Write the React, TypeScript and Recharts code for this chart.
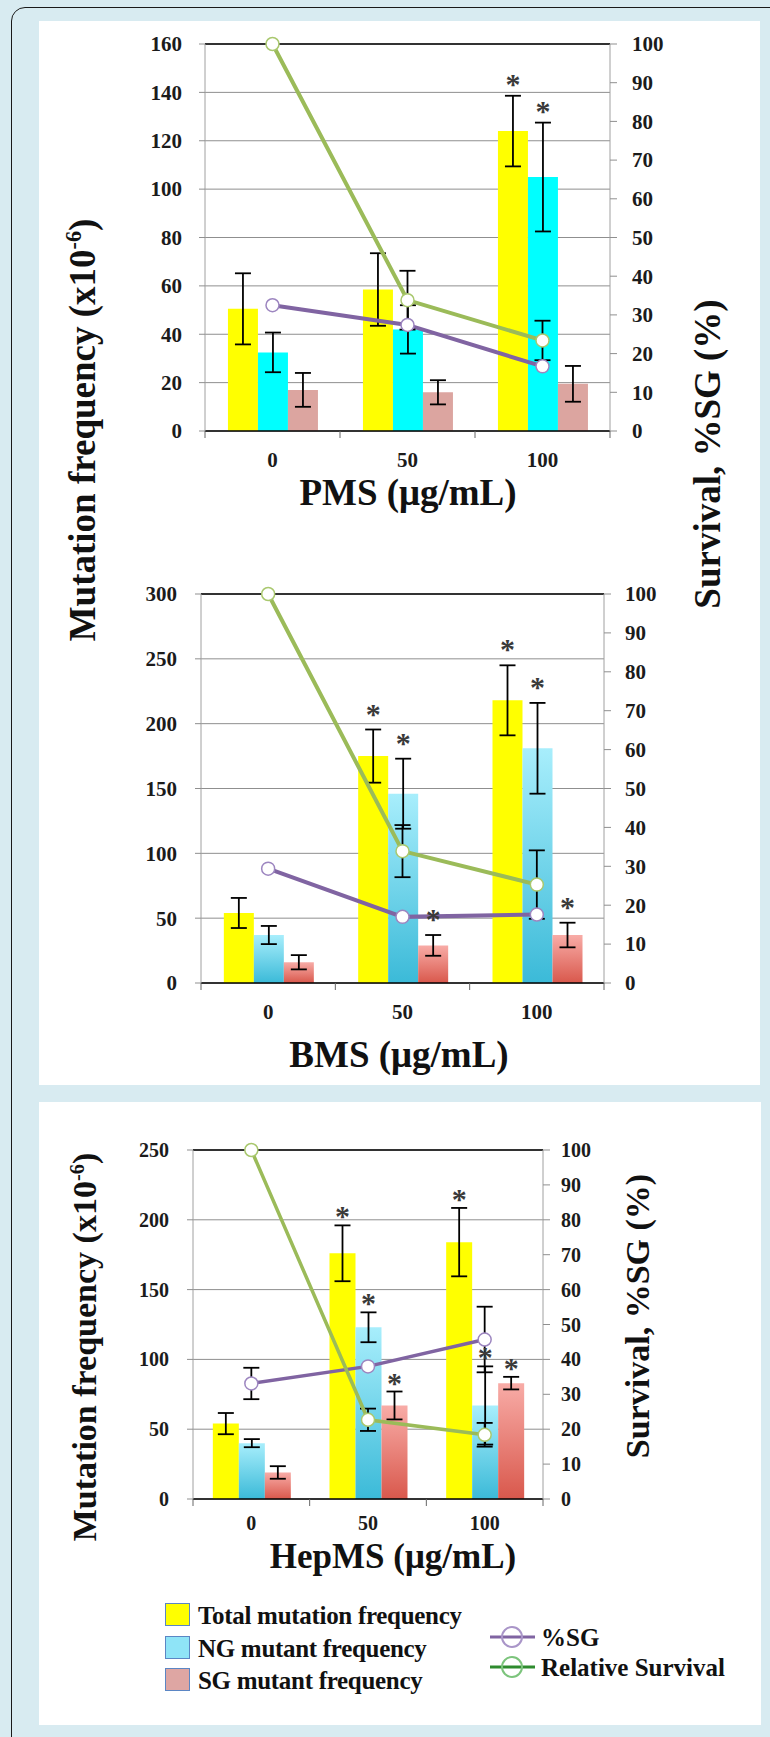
import React from "react";
import {
  ComposedChart,
  Bar,
  Line,
  XAxis,
  YAxis,
  CartesianGrid,
  ErrorBar,
  LabelList,
  ReferenceLine,
} from "recharts";

const SERIF = '"Liberation Serif", "Times New Roman", serif';
const INK = "#1b1b1b";
const GRID = "#8f8f8f";
const GREEN = "#9bbb59";
const PURPLE = "#8064a2";
const txt = { fontFamily: SERIF, fontWeight: 700 } as const;

const doses = ["0", "50", "100"];
const survivalTicks = [0, 10, 20, 30, 40, 50, 60, 70, 80, 90, 100];

// PMS
const pmsTicks = [0, 20, 40, 60, 80, 100, 120, 140, 160];
const pmsTotal = [50.5, 58.5, 124];
const pmsTotalErr = [14.7, 15, 14.6];
const pmsNG = [32.5, 42, 105];
const pmsNGErr = [8.2, 10, 22.5];
const pmsSG = [17, 16, 19.5];
const pmsSGErr = [7, 5, 7.4];
const pmsSurvival = [100, 33.8, 23.4];
const pmsSurvivalErr = [0, 7.6, 5.1];
const pmsPctSG = [32.5, 27.4, 16.7];
const pmsPctSGErr = [0, 0, 0];
const pmsStarTotal = [false, false, true];
const pmsStarNG = [false, false, true];
const pmsStarSG = [false, false, false];

// BMS
const bmsTicks = [0, 50, 100, 150, 200, 250, 300];
const bmsTotal = [54, 175, 218];
const bmsTotalErr = [11.6, 20.5, 27];
const bmsNG = [37, 146, 181];
const bmsNGErr = [7, 27, 35];
const bmsSG = [16, 29, 37];
const bmsSGErr = [5.5, 8, 9.5];
const bmsSurvival = [100, 33.9, 25.3];
const bmsSurvivalErr = [0, 6.7, 8.8];
const bmsPctSG = [29.4, 17, 17.6];
const bmsPctSGErr = [0, 0, 0];
const bmsStarTotal = [false, true, true];
const bmsStarNG = [false, true, true];
const bmsStarSG = [false, true, true];

// HepMS
const hepTicks = [0, 50, 100, 150, 200, 250];
const hepTotal = [54, 176, 184];
const hepTotalErr = [7.6, 20, 24.5];
const hepNG = [40, 123, 67];
const hepNGErr = [2.9, 10.7, 28];
const hepSG = [19, 67, 83];
const hepSGErr = [4.5, 10, 4.5];
const hepSurvival = [100, 22.7, 18.4];
const hepSurvivalErr = [0, 3.2, 3.4];
const hepPctSG = [33.1, 38, 45.7];
const hepPctSGErr = [4.5, 0, 9.4];
const hepStarTotal = [false, true, true];
const hepStarNG = [false, true, true];
const hepStarSG = [false, true, true];

type PanelProps = {
  id: string;
  top: number;
  height: number;
  left: number;
  right: number;
  plotTop: number;
  plotBottom: number;
  ticks: number[];
  total: number[];
  totalErr: number[];
  ng: number[];
  ngErr: number[];
  sg: number[];
  sgErr: number[];
  survival: number[];
  survivalErr: number[];
  pct: number[];
  pctErr: number[];
  starTotal: boolean[];
  starNG: boolean[];
  starSG: boolean[];
  solid: boolean;
  tickFont: number;
  leftMargin: number;
  rightMargin: number;
  xLabelOffset: number;
  lineWidth: number;
  starShift: number;
};

function makeStar(errs: number[], stars: boolean[], shift: number) {
  return (props: any) => {
    const i = props.index;
    if (!stars[i]) return null;
    const vb = props.viewBox ?? props;
    const x = Number(vb.x ?? props.x);
    const y = Number(vb.y ?? props.y);
    const w = Number(vb.width ?? props.width);
    const h = Number(vb.height ?? props.height);
    const v = Number(props.value);
    const top = y - (errs[i] * h) / v;
    return (
      <text
        x={x + w / 2}
        y={top + shift}
        textAnchor="middle"
        style={{ ...txt, fontSize: 30 }}
        fill="#3a3a3a"
      >
        *
      </text>
    );
  };
}

function Panel(p: PanelProps) {
  const rows = doses.map((d, i) => ({
    dose: d,
    total: p.total[i],
    totalErr: p.totalErr[i],
    ng: p.ng[i],
    ngErr: p.ngErr[i],
    sg: p.sg[i],
    sgErr: p.sgErr[i],
    survival: p.survival[i],
    survivalErr: p.survivalErr[i],
    pct: p.pct[i],
    pctErr: p.pctErr[i],
  }));
  const max = p.ticks[p.ticks.length - 1];
  const band = (p.right - p.left) / doses.length;
  const margin = {
    top: p.plotTop - p.top,
    bottom: p.top + p.height - p.plotBottom - 40,
    left: p.left - 60,
    right: 770 - p.right - 60,
  };
  const ngFill = p.solid ? "#00ffff" : `url(#ng-${p.id})`;
  const sgFill = p.solid ? "#dca5a0" : `url(#sg-${p.id})`;
  const err = { stroke: "#000", strokeWidth: 1.8, width: 8 };

  const xTick = (t: any) => {
    const { x, y, payload, index } = t;
    return (
      <g>
        <line x1={x - band / 2} x2={x - band / 2} y1={y} y2={y + 7} stroke="#666" />
        {index === doses.length - 1 && (
          <line x1={x + band / 2} x2={x + band / 2} y1={y} y2={y + 7} stroke="#666" />
        )}
        <text
          x={x}
          y={y + p.xLabelOffset}
          textAnchor="middle"
          style={{ ...txt, fontSize: p.tickFont }}
          fill={INK}
        >
          {payload.value}
        </text>
      </g>
    );
  };
  const yTick = (anchor: "end" | "start") => (t: any) => (
    <text
      x={t.x}
      y={t.y}
      dy="0.35em"
      textAnchor={anchor}
      style={{ ...txt, fontSize: p.tickFont }}
      fill={INK}
    >
      {t.payload.value}
    </text>
  );

  return (
    <div style={{ position: "absolute", left: 0, top: p.top }}>
      <ComposedChart
        width={770}
        height={p.height}
        data={rows}
        margin={margin}
        barCategoryGap="17%"
        barGap={0}
      >
        <defs>
          <linearGradient id={`ng-${p.id}`} x1="0" y1="0" x2="0" y2="1">
            <stop offset="0%" stopColor="#a8eefc" />
            <stop offset="100%" stopColor="#3bbad8" />
          </linearGradient>
          <linearGradient id={`sg-${p.id}`} x1="0" y1="0" x2="0" y2="1">
            <stop offset="0%" stopColor="#f8aca7" />
            <stop offset="100%" stopColor="#d9584c" />
          </linearGradient>
        </defs>
        <CartesianGrid vertical={false} yAxisId="left" stroke={GRID} />
        <XAxis
          dataKey="dose"
          height={40}
          interval={0}
          tickLine={false}
          tickSize={0}
          tickMargin={0}
          axisLine={{ stroke: "#000", strokeWidth: 1.5 }}
          tick={xTick}
        />
        <YAxis
          yAxisId="left"
          width={60}
          domain={[0, max]}
          ticks={p.ticks}
          interval={0}
          tickSize={6}
          tickMargin={p.leftMargin}
          axisLine={{ stroke: "#a0a0a0" }}
          tickLine={{ stroke: GRID }}
          tick={yTick("end")}
        />
        <YAxis
          yAxisId="right"
          orientation="right"
          width={60}
          domain={[0, 100]}
          ticks={survivalTicks}
          interval={0}
          tickSize={7}
          tickMargin={p.rightMargin}
          axisLine={{ stroke: "#a0a0a0" }}
          tickLine={{ stroke: GRID }}
          tick={yTick("start")}
        />
        <ReferenceLine yAxisId="left" y={max} stroke="#000" strokeWidth={1.5} />
        <Bar yAxisId="left" dataKey="total" fill="#ffff00" isAnimationActive={false}>
          <ErrorBar dataKey="totalErr" direction="y" {...err} />
          <LabelList dataKey="total" content={makeStar(p.totalErr, p.starTotal, p.starShift)} />
        </Bar>
        <Bar yAxisId="left" dataKey="ng" fill={ngFill} isAnimationActive={false}>
          <ErrorBar dataKey="ngErr" direction="y" {...err} />
          <LabelList dataKey="ng" content={makeStar(p.ngErr, p.starNG, p.starShift)} />
        </Bar>
        <Bar yAxisId="left" dataKey="sg" fill={sgFill} isAnimationActive={false}>
          <ErrorBar dataKey="sgErr" direction="y" {...err} />
          <LabelList dataKey="sg" content={makeStar(p.sgErr, p.starSG, p.starShift)} />
        </Bar>
        <Line
          yAxisId="right"
          dataKey="pct"
          stroke={PURPLE}
          strokeWidth={p.lineWidth}
          dot={{ r: 6.5, fill: "#fff", stroke: "#9d86c0", strokeWidth: 1.5 }}
          isAnimationActive={false}
        >
          <ErrorBar dataKey="pctErr" direction="y" {...err} />
        </Line>
        <Line
          yAxisId="right"
          dataKey="survival"
          stroke={GREEN}
          strokeWidth={p.lineWidth}
          dot={{ r: 6.5, fill: "#fff", stroke: "#a9c86e", strokeWidth: 1.5 }}
          isAnimationActive={false}
        >
          <ErrorBar dataKey="survivalErr" direction="y" {...err} />
        </Line>
      </ComposedChart>
    </div>
  );
}

function Title({
  x,
  y,
  size,
  vertical,
  children,
}: {
  x: number;
  y: number;
  size: number;
  vertical?: boolean;
  children: React.ReactNode;
}) {
  return (
    <div
      style={{
        position: "absolute",
        left: x,
        top: y,
        transform: `translate(-50%, -50%)${vertical ? " rotate(-90deg)" : ""}`,
        ...txt,
        fontSize: size,
        lineHeight: 1,
        whiteSpace: "nowrap",
        color: "#111",
      }}
    >
      {children}
    </div>
  );
}

const sup = (
  <sup style={{ fontSize: "0.6em", verticalAlign: "super", lineHeight: 0 }}>-6</sup>
);

function LegendBox({ y, color, label }: { y: number; color: string; label: string }) {
  return (
    <>
      <div
        style={{
          position: "absolute",
          left: 165,
          top: y,
          width: 23,
          height: 21,
          background: color,
          border: "1.5px solid #5b86c4",
        }}
      />
      <div
        style={{
          position: "absolute",
          left: 198,
          top: y + 12,
          transform: "translateY(-50%)",
          ...txt,
          fontSize: 25,
          lineHeight: 1,
          letterSpacing: -0.3,
          whiteSpace: "nowrap",
          color: "#111",
        }}
      >
        {label}
      </div>
    </>
  );
}

function LegendLine({
  y,
  line,
  ring,
  label,
}: {
  y: number;
  line: string;
  ring: string;
  label: string;
}) {
  return (
    <>
      <svg style={{ position: "absolute", left: 488, top: y - 13 }} width={50} height={26}>
        <line x1={2} x2={47} y1={13} y2={13} stroke={line} strokeWidth={3} />
        <circle cx={24} cy={13} r={10} fill="none" stroke={ring} strokeWidth={2} />
      </svg>
      <div
        style={{
          position: "absolute",
          left: 541,
          top: y,
          transform: "translateY(-50%)",
          ...txt,
          fontSize: 25,
          lineHeight: 1,
          whiteSpace: "nowrap",
          color: "#111",
        }}
      >
        {label}
      </div>
    </>
  );
}

export default function App() {
  return (
    <div
      style={{
        position: "absolute",
        left: 0,
        top: 0,
        width: 770,
        height: 1737,
        overflow: "hidden",
        background: "#d8ebf1",
      }}
    >
      <div
        style={{
          position: "absolute",
          left: 11,
          top: 7,
          width: 800,
          height: 1800,
          border: "1.5px solid #1a1a1a",
          borderRadius: 14,
        }}
      />
      <div style={{ position: "absolute", left: 39, top: 21, width: 721, height: 1064, background: "#fff" }} />
      <div style={{ position: "absolute", left: 39, top: 1102, width: 722, height: 623, background: "#fff" }} />

      <Panel
        id="pms"
        top={0}
        height={480}
        left={205}
        right={610}
        plotTop={44}
        plotBottom={431}
        ticks={pmsTicks}
        total={pmsTotal}
        totalErr={pmsTotalErr}
        ng={pmsNG}
        ngErr={pmsNGErr}
        sg={pmsSG}
        sgErr={pmsSGErr}
        survival={pmsSurvival}
        survivalErr={pmsSurvivalErr}
        pct={pmsPctSG}
        pctErr={pmsPctSGErr}
        starTotal={pmsStarTotal}
        starNG={pmsStarNG}
        starSG={pmsStarSG}
        solid
        tickFont={21}
        leftMargin={17}
        rightMargin={15}
        xLabelOffset={36}
        lineWidth={4}
        starShift={-2}
      />
      <Panel
        id="bms"
        top={540}
        height={500}
        left={201}
        right={604}
        plotTop={594}
        plotBottom={983}
        ticks={bmsTicks}
        total={bmsTotal}
        totalErr={bmsTotalErr}
        ng={bmsNG}
        ngErr={bmsNGErr}
        sg={bmsSG}
        sgErr={bmsSGErr}
        survival={bmsSurvival}
        survivalErr={bmsSurvivalErr}
        pct={bmsPctSG}
        pctErr={bmsPctSGErr}
        starTotal={bmsStarTotal}
        starNG={bmsStarNG}
        starSG={bmsStarSG}
        solid={false}
        tickFont={21}
        leftMargin={18}
        rightMargin={14}
        xLabelOffset={36}
        lineWidth={4}
        starShift={-6}
      />
      <Panel
        id="hep"
        top={1110}
        height={440}
        left={193}
        right={543}
        plotTop={1150}
        plotBottom={1499}
        ticks={hepTicks}
        total={hepTotal}
        totalErr={hepTotalErr}
        ng={hepNG}
        ngErr={hepNGErr}
        sg={hepSG}
        sgErr={hepSGErr}
        survival={hepSurvival}
        survivalErr={hepSurvivalErr}
        pct={hepPctSG}
        pctErr={hepPctSGErr}
        starTotal={hepStarTotal}
        starNG={hepStarNG}
        starSG={hepStarSG}
        solid={false}
        tickFont={20}
        leftMargin={18}
        rightMargin={11}
        xLabelOffset={31}
        lineWidth={3.5}
        starShift={1}
      />

      <Title x={82} y={430} size={37} vertical>
        Mutation frequency (x10{sup})
      </Title>
      <Title x={707} y={454} size={37} vertical>
        Survival, %SG (%)
      </Title>
      <Title x={408} y={492} size={37}>
        PMS (μg/mL)
      </Title>
      <Title x={399} y={1054} size={37}>
        BMS (μg/mL)
      </Title>
      <Title x={85} y={1347} size={34} vertical>
        Mutation frequency (x10{sup})
      </Title>
      <Title x={638} y={1316} size={34} vertical>
        Survival, %SG (%)
      </Title>
      <Title x={393} y={1556} size={35}>
        HepMS (μg/mL)
      </Title>

      <LegendBox y={1603} color="#ffff00" label="Total mutation frequency" />
      <LegendBox y={1636} color="#8fe4f7" label="NG mutant frequency" />
      <LegendBox y={1668} color="#dea6a3" label="SG mutant frequency" />
      <LegendLine y={1637} line={PURPLE} ring="#a995c8" label="%SG" />
      <LegendLine y={1667} line="#2e8b2e" ring="#7cc47c" label="Relative Survival" />
    </div>
  );
}
